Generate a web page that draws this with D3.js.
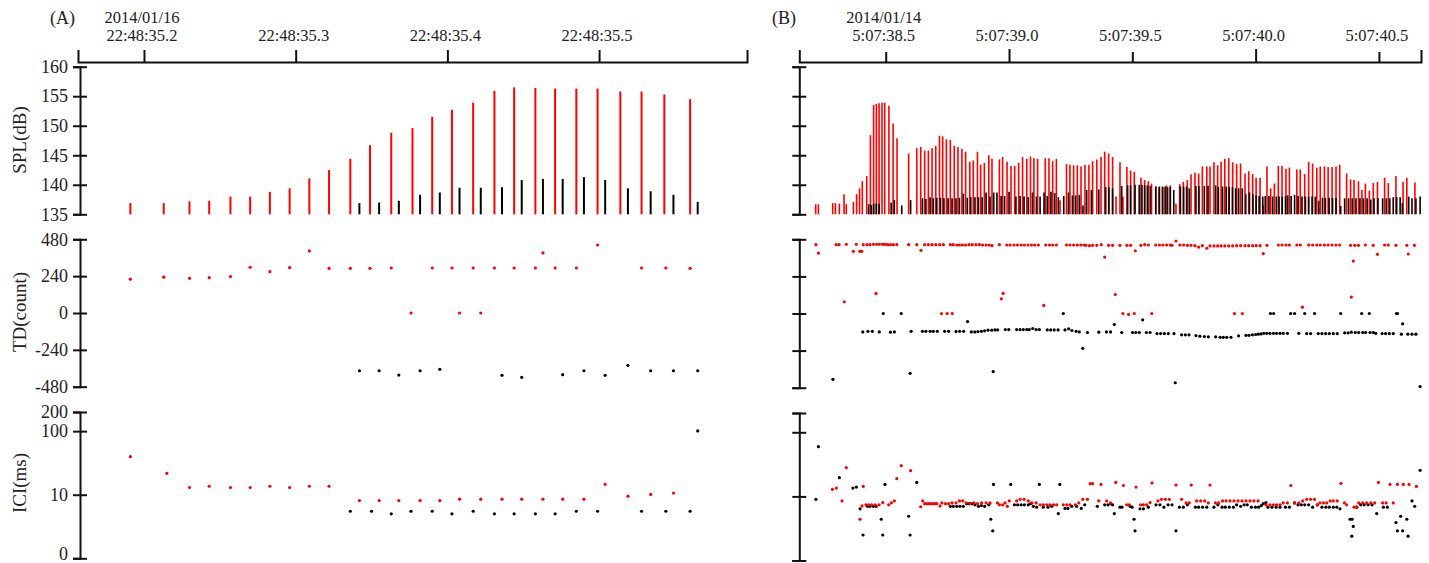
<!DOCTYPE html>
<html><head><meta charset="utf-8">
<script src="https://cdn.jsdelivr.net/npm/d3@7"></script>
<style>body{margin:0;background:#fff}text{font-family:"Liberation Serif","Times New Roman",serif;fill:#222}</style>
</head><body>
<script>
// ---------- tick labels ----------
const aTickVals = [200, 300, 400, 500];
const aTickLabels = ["22:48:35.2", "22:48:35.3", "22:48:35.4", "22:48:35.5"];
const aDate = "2014/01/16";
const bTickVals = [500, 1000, 1500, 2000, 2500];
const bTickLabels = ["5:07:38.5", "5:07:39.0", "5:07:39.5", "5:07:40.0", "5:07:40.5"];
const bDate = "2014/01/14";
const splTicks = [135, 140, 145, 150, 155, 160];
const tdTicks = [-480, -240, 0, 240, 480];
const iciTicks = [1, 10, 100, 200];
const iciTickLabels = ["0", "10", "100", "200"];

// ---------- Panel A data: [time ms after 22:48:35.000, value] ----------
const aSplRed = [[191,136.9],[213,136.9],[230,137.2],[243,137.3],[257,138.0],[270,138.0],[283,138.8],[296,139.4],[309,141.1],[322,142.5],[336,144.4],[349,146.7],[363,148.8],[377,149.6],[390,151.5],[403,152.7],[417,153.9],[431,155.9],[444,156.5],[458,156.4],[471,156.3],[485,156.3],[499,156.3],[514,155.8],[528,155.8],[543,155.3],[560,154.5]];
const aSplBlack = [[342,136.9],[355,137.0],[368,137.3],[382,138.3],[395,138.7],[408,139.5],[422,139.5],[436,139.6],[449,140.8],[463,141.0],[476,141.0],[490,141.3],[504,140.8],[519,139.4],[534,138.9],[549,138.3],[565,137.1]];
const aTdRed = [[191,220],[213,233],[230,226],[243,230],[257,237],[270,298],[283,269],[296,295],[309,404],[322,291],[336,291],[349,291],[363,293],[376,0],[390,293],[403,293],[408,0],[417,293],[422,0],[431,293],[444,293],[458,293],[463,391],[471,293],[485,293],[499,443],[528,293],[544,293],[560,291]];
const aTdBlack = [[342,-376],[355,-376],[368,-404],[382,-376],[395,-367],[436,-406],[449,-419],[476,-402],[490,-376],[504,-406],[519,-341],[534,-376],[549,-376],[565,-376]];
const aIciRed = [[191,39.6],[215,21.7],[230,13.0],[243,13.6],[257,13.0],[270,13.0],[283,13.6],[296,13.0],[309,13.6],[322,13.6],[342,8.1],[355,8.1],[368,8.1],[382,8.1],[395,8.1],[408,8.5],[422,8.5],[436,8.5],[449,8.5],[463,8.5],[476,8.5],[490,8.5],[504,14.6],[519,9.5],[534,10.1],[549,10.6]];
const aIciBlack = [[336,5.5],[350,5.5],[363,5.0],[376,5.5],[390,5.5],[403,5.0],[417,5.5],[431,5.0],[444,5.0],[458,5.0],[471,5.0],[485,5.5],[499,5.5],[528,5.5],[544,5.5],[560,5.5],[565,100.8]];

// ---------- Panel B data: [time ms after 5:07:38.000, value] ----------
const bSplRed = [[216,136.7],[227,136.7],[285,136.9],[296,136.9],[312,136.8],[331,138.4],[340,136.7],[369,137.1],[382,138.4],[394,139.4],[405,140.6],[423,141.5],[438,148.4],[451,153.5],[462,153.7],[473,153.8],[485,153.9],[496,153.9],[513,153.4],[530,150.4],[546,147.9],[593,145.3],[626,146.2],[642,146.4],[658,145.8],[673,145.8],[688,146.2],[703,146.6],[718,148.3],[731,148.2],[746,147.7],[762,147.6],[778,146.6],[793,146.4],[809,146.1],[824,145.6],[841,143.9],[855,144.1],[872,145.6],[885,143.4],[900,143.7],[918,145.0],[931,144.4],[961,144.3],[974,144.7],[992,143.9],[1008,143.2],[1023,143.2],[1039,143.7],[1055,144.7],[1072,144.4],[1087,144.8],[1101,144.5],[1116,144.4],[1147,144.5],[1162,144.5],[1177,144.0],[1192,144.4],[1207,137.4],[1233,143.5],[1247,143.4],[1262,143.3],[1277,143.3],[1292,143.1],[1308,143.4],[1324,143.4],[1339,144.0],[1356,144.3],[1373,144.7],[1388,145.6],[1404,145.3],[1420,144.7],[1434,138.0],[1450,143.8],[1462,138.0],[1478,143.0],[1493,142.4],[1508,142.2],[1535,141.2],[1550,140.8],[1565,140.6],[1578,140.2],[1595,139.7],[1608,139.6],[1624,139.6],[1639,139.9],[1654,139.9],[1677,136.8],[1692,140.1],[1707,140.5],[1723,140.8],[1738,141.8],[1754,142.1],[1769,141.9],[1784,143.1],[1802,143.1],[1815,143.1],[1831,143.8],[1846,143.3],[1860,143.9],[1875,144.4],[1891,144.5],[1907,143.8],[1923,143.5],[1939,143.6],[1957,141.9],[1972,142.3],[1988,141.8],[2002,141.2],[2018,141.2],[2031,136.6],[2046,143.1],[2061,139.4],[2076,140.2],[2092,143.2],[2107,143.2],[2123,142.7],[2137,142.9],[2167,142.6],[2181,142.6],[2199,141.8],[2215,143.9],[2231,143.6],[2248,142.9],[2262,143.1],[2279,143.1],[2294,143.0],[2310,143.0],[2326,143.1],[2341,143.4],[2369,141.9],[2385,140.9],[2399,140.8],[2417,140.6],[2431,139.1],[2445,140.2],[2461,139.0],[2477,140.3],[2494,140.5],[2523,141.2],[2538,140.3],[2569,141.5],[2598,140.5],[2613,141.2],[2646,140.4]];
const bSplBlack = [[431,136.7],[442,136.6],[451,136.8],[462,136.8],[473,136.8],[522,137.0],[535,137.4],[565,136.5],[601,137.4],[649,137.7],[663,137.6],[680,137.9],[693,137.7],[707,137.8],[722,137.8],[736,137.7],[753,137.7],[769,137.7],[785,137.7],[799,137.8],[815,138.5],[831,137.8],[845,137.9],[862,137.9],[876,137.9],[891,137.9],[907,138.7],[923,138.0],[938,138.7],[951,138.7],[968,138.1],[982,138.1],[1000,138.8],[1028,138.0],[1045,138.1],[1061,138.0],[1078,137.9],[1095,138.7],[1111,138.0],[1126,138.0],[1142,138.7],[1155,138.1],[1170,138.8],[1185,138.6],[1200,137.9],[1222,138.1],[1241,138.7],[1257,138.2],[1270,138.2],[1285,138.3],[1300,136.5],[1315,139.1],[1334,139.1],[1364,139.2],[1392,139.6],[1405,139.6],[1420,139.4],[1457,139.8],[1481,139.9],[1493,139.9],[1511,140.0],[1528,140.0],[1539,140.0],[1550,139.9],[1561,139.9],[1573,139.8],[1595,139.7],[1610,139.7],[1622,139.7],[1633,139.7],[1643,139.6],[1654,139.6],[1668,139.1],[1695,139.7],[1708,139.7],[1720,139.7],[1731,139.4],[1758,139.8],[1770,139.8],[1792,139.8],[1807,139.8],[1838,139.9],[1849,139.6],[1866,139.7],[1881,139.7],[1893,139.6],[1906,139.6],[1919,139.4],[1931,139.4],[1946,139.4],[1960,138.4],[1975,138.7],[1989,138.4],[2002,138.2],[2014,138.1],[2029,138.0],[2039,138.1],[2054,138.1],[2069,138.0],[2084,138.0],[2095,138.0],[2108,138.0],[2121,138.1],[2130,138.2],[2144,138.1],[2158,138.3],[2172,138.1],[2188,138.0],[2202,138.0],[2215,138.0],[2229,138.0],[2242,138.0],[2256,137.3],[2271,137.8],[2283,137.8],[2298,137.8],[2312,137.8],[2326,137.8],[2345,136.4],[2361,137.7],[2377,137.7],[2392,137.7],[2407,137.7],[2423,137.7],[2437,137.7],[2452,137.7],[2467,137.5],[2480,137.7],[2496,137.7],[2515,137.7],[2530,137.7],[2544,137.7],[2558,137.9],[2572,137.9],[2586,137.9],[2595,136.9],[2621,138.0],[2634,137.7],[2650,137.7],[2667,138.0]];
const bTdRed = [[217,445],[227,391],[299,445],[311,445],[332,76],[340,448],[369,402],[381,448],[395,402],[403,402],[409,445],[424,445],[436,445],[450,448],[461,130],[463,448],[474,448],[486,448],[493,448],[499,448],[508,445],[519,445],[531,445],[545,445],[593,445],[626,445],[643,409],[658,445],[673,445],[688,445],[703,445],[719,445],[734,445],[726,0],[749,0],[770,0],[762,445],[774,445],[788,443],[799,443],[811,443],[824,443],[838,445],[851,445],[866,445],[880,445],[893,443],[907,443],[920,443],[931,439],[961,445],[969,95],[976,130],[991,443],[1004,443],[1020,443],[1034,443],[1049,443],[1062,443],[1077,443],[1091,443],[1104,443],[1119,443],[1141,52],[1149,443],[1164,443],[1177,443],[1192,443],[1233,443],[1247,443],[1262,443],[1277,443],[1291,443],[1304,443],[1312,441],[1326,439],[1339,441],[1356,441],[1374,445],[1388,365],[1404,441],[1420,441],[1431,123],[1450,441],[1462,0],[1478,441],[1485,-6],[1493,441],[1508,0],[1512,406],[1535,441],[1550,445],[1565,443],[1579,0],[1595,443],[1610,443],[1624,443],[1639,443],[1654,443],[1661,441],[1677,469],[1693,443],[1708,443],[1723,441],[1738,441],[1754,439],[1769,430],[1784,439],[1802,422],[1815,437],[1831,437],[1846,437],[1860,437],[1875,437],[1891,437],[1907,437],[1914,0],[1923,439],[1939,439],[1946,0],[1957,439],[1972,439],[1988,439],[2002,439],[2018,439],[2031,387],[2046,441],[2092,443],[2107,443],[2123,443],[2137,443],[2167,443],[2181,443],[2190,41],[2215,443],[2231,443],[2248,443],[2262,443],[2279,443],[2294,443],[2310,443],[2326,443],[2341,443],[2385,441],[2388,106],[2396,339],[2402,441],[2417,441],[2445,443],[2477,441],[2494,383],[2523,443],[2538,443],[2569,441],[2613,441],[2619,385],[2644,441]];
const bTdBlack = [[286,-426],[407,-119],[428,-115],[446,-115],[474,-119],[490,0],[519,-121],[535,-119],[563,0],[599,-387],[603,-115],[649,-115],[663,-115],[680,-115],[693,-115],[709,-115],[739,-115],[755,-115],[785,-117],[800,-115],[816,-115],[832,-52],[847,-119],[861,-119],[874,-117],[888,-115],[901,-112],[915,-108],[930,-108],[936,-376],[943,-106],[954,-106],[985,-104],[999,-104],[1031,-104],[1045,-104],[1058,-104],[1072,-104],[1082,-104],[1096,-97],[1110,-104],[1123,-104],[1155,-106],[1169,-106],[1183,-106],[1199,-106],[1220,0],[1227,-106],[1242,-99],[1255,-110],[1272,-115],[1285,-119],[1299,-225],[1318,-123],[1364,-121],[1395,-119],[1412,-119],[1427,-71],[1457,-123],[1501,-123],[1514,-123],[1528,-123],[1542,-41],[1557,-123],[1572,-123],[1600,-130],[1615,-130],[1630,-130],[1646,-130],[1669,-130],[1674,-448],[1700,-138],[1715,-138],[1730,-138],[1758,-143],[1774,-147],[1792,-149],[1808,-151],[1838,-151],[1856,-154],[1869,-154],[1883,-154],[1900,-154],[1931,-145],[1961,-141],[1973,-141],[1987,-138],[2000,-136],[2011,-134],[2022,-132],[2033,-128],[2045,-128],[2058,-128],[2060,0],[2073,0],[2072,-128],[2085,-128],[2099,-128],[2112,-128],[2129,-128],[2142,0],[2158,0],[2175,-128],[2199,0],[2207,-130],[2223,-130],[2239,0],[2254,-130],[2269,-130],[2284,-130],[2299,-130],[2315,-130],[2331,-130],[2345,0],[2361,-125],[2375,-125],[2388,-121],[2404,-123],[2418,-123],[2430,0],[2434,-123],[2446,-123],[2461,0],[2464,-123],[2477,-123],[2487,-128],[2513,-130],[2527,-130],[2542,-130],[2558,-130],[2571,0],[2575,0],[2591,-134],[2596,-67],[2617,-134],[2634,-134],[2650,-134],[2667,-473]];
const bIciRed = [[284,12.9],[300,13.5],[323,8.5],[340,28.1],[396,4.4],[404,7.1],[409,14.3],[420,7.4],[431,7.4],[443,7.4],[457,7.4],[473,7.4],[488,8.0],[512,7.4],[523,7.9],[535,8.5],[545,18.9],[563,30.1],[601,25.2],[642,6.9],[650,8.5],[658,7.7],[666,7.7],[674,7.7],[682,7.7],[691,7.7],[699,7.7],[707,7.7],[720,7.1],[728,7.9],[742,7.7],[755,7.7],[769,7.9],[785,7.9],[799,8.5],[812,8.5],[826,7.9],[842,7.7],[858,7.9],[872,7.7],[889,7.9],[907,7.9],[923,7.9],[953,7.9],[961,7.4],[974,7.4],[984,7.9],[993,7.0],[1001,8.5],[1031,8.5],[1045,9.0],[1061,9.0],[1078,8.5],[1093,7.9],[1110,7.9],[1126,7.4],[1139,7.4],[1153,7.4],[1166,7.4],[1180,7.4],[1193,7.4],[1220,7.4],[1234,7.4],[1247,7.4],[1269,7.4],[1283,7.9],[1299,9.0],[1318,9.0],[1329,15.8],[1339,15.8],[1364,8.5],[1373,15.4],[1396,8.5],[1412,7.9],[1433,16.5],[1464,14.8],[1477,7.4],[1488,7.4],[1515,14.0],[1534,7.4],[1545,7.4],[1558,7.4],[1572,8.0],[1580,16.2],[1604,8.5],[1618,9.0],[1634,9.0],[1650,9.0],[1677,15.0],[1700,9.0],[1718,7.9],[1731,7.9],[1739,15.0],[1761,8.5],[1777,8.5],[1793,8.5],[1808,7.9],[1815,15.0],[1837,7.9],[1850,7.9],[1866,8.5],[1880,8.5],[1896,8.5],[1912,8.5],[1929,8.5],[1945,8.5],[1961,8.5],[1977,8.5],[1993,8.5],[2010,8.5],[2042,7.4],[2058,7.4],[2072,7.4],[2085,7.4],[2099,7.4],[2112,7.9],[2129,7.9],[2143,14.8],[2158,7.9],[2175,7.9],[2191,8.5],[2207,9.0],[2223,9.0],[2239,9.0],[2250,7.4],[2261,7.9],[2275,7.9],[2288,7.9],[2302,8.5],[2315,8.5],[2331,8.5],[2346,16.0],[2360,7.9],[2369,7.4],[2399,6.8],[2410,6.8],[2418,7.9],[2434,7.9],[2450,7.9],[2467,7.9],[2483,7.9],[2498,16.5],[2515,7.9],[2529,7.9],[2545,15.4],[2558,7.9],[2575,15.4],[2599,15.4],[2622,15.4],[2652,14.3]];
const bIciBlack = [[217,9.0],[227,59.7],[312,19.6],[367,13.5],[381,14.0],[396,6.4],[408,2.5],[426,7.0],[436,7.0],[450,7.0],[461,7.0],[482,4.4],[488,2.5],[497,15.4],[593,4.9],[599,2.5],[626,16.5],[762,7.0],[774,7.0],[788,7.0],[801,7.0],[815,7.0],[828,7.7],[839,7.7],[850,7.7],[862,7.4],[876,7.0],[888,7.2],[901,7.0],[918,7.4],[926,4.4],[934,2.9],[937,15.4],[1007,15.4],[1022,7.4],[1035,7.4],[1049,7.4],[1062,7.4],[1078,7.4],[1088,7.7],[1099,7.0],[1112,6.8],[1123,15.4],[1139,6.8],[1158,6.8],[1173,7.0],[1200,5.4],[1206,15.4],[1227,6.5],[1239,6.5],[1254,7.0],[1274,7.0],[1293,6.5],[1307,7.4],[1358,7.0],[1388,7.4],[1401,7.4],[1412,7.7],[1420,7.4],[1427,5.4],[1450,6.8],[1458,6.8],[1491,7.0],[1499,6.8],[1507,4.4],[1511,2.9],[1531,6.4],[1545,6.4],[1565,6.8],[1596,7.4],[1612,7.4],[1628,6.8],[1645,7.4],[1661,7.4],[1677,2.9],[1691,6.8],[1707,6.8],[1723,7.4],[1756,6.8],[1769,6.8],[1785,6.8],[1802,6.8],[1831,6.8],[1847,7.4],[1864,6.8],[1877,6.8],[1893,6.8],[1910,6.8],[1923,7.4],[1939,7.0],[1953,7.4],[1966,7.4],[1983,6.8],[1999,6.8],[2012,6.8],[2023,7.2],[2031,7.7],[2042,8.0],[2050,6.8],[2066,6.8],[2083,6.8],[2099,6.8],[2121,6.8],[2137,6.8],[2158,7.9],[2172,7.4],[2185,7.4],[2199,7.4],[2215,7.4],[2231,6.8],[2250,7.4],[2269,6.8],[2285,6.8],[2299,6.8],[2315,6.8],[2329,6.8],[2342,6.4],[2383,4.4],[2391,4.4],[2396,3.4],[2390,2.4],[2410,6.8],[2426,7.4],[2440,7.4],[2456,7.4],[2472,7.4],[2491,5.4],[2518,6.8],[2534,6.8],[2569,3.9],[2575,2.9],[2588,4.9],[2596,2.9],[2613,4.4],[2618,2.4],[2634,8.5],[2645,7.0],[2667,25.5]];

// ---------- drawing ----------
const W = 1429, H = 563;
const svg = d3.select("body").append("svg").attr("width", W).attr("height", H);
svg.append("rect").attr("width", W).attr("height", H).attr("fill", "#fff");

const RED = "#ff0000", BLK = "#000000";

const panels = [
  { label: "(A)", labelX: 50, axisX: 80, x: d3.scaleLinear().domain([156.5, 597.5]).range([78, 747]),
    ticks: aTickVals, tickLabels: aTickLabels, date: aDate, majorEvery: 1, showY: true,
    iciRange: [558.3, 412], tdRange: [386.7, 239.3], barW: 2,
    spl: [aSplRed, aSplBlack], td: [aTdRed, aTdBlack], ici: [aIciRed, aIciBlack] },
  { label: "(B)", labelX: 772, axisX: 799.3, x: d3.scaleLinear().domain([149.6, 2670.6]).range([799.3, 1421]),
    ticks: bTickVals, tickLabels: bTickLabels, date: bDate, majorEvery: 2, showY: false,
    iciRange: [560.5, 413], tdRange: [387.7, 239.3], barW: 1.6,
    spl: [bSplRed, bSplBlack], td: [bTdRed, bTdBlack], ici: [bIciRed, bIciBlack] }
];

panels.forEach((p) => {
  const g = svg.append("g");
  const x = p.x;
  const ySpl = d3.scaleLinear().domain([135, 160]).range([214.3, 66.7]);
  const yTd = d3.scaleLinear().domain([-480, 480]).range(p.tdRange);
  const yIci = d3.scaleLog().domain([1, 200]).range(p.iciRange);

  // panel label
  g.append("text").attr("x", p.labelX).attr("y", 24).attr("font-size", 18).text(p.label);

  // top time axis
  const top = g.append("g").attr("transform", "translate(0,62)")
    .call(d3.axisTop(x).tickValues(p.ticks).tickSizeOuter(0).tickSize(12).tickFormat(""));
  top.select(".domain").attr("stroke", "#111").attr("stroke-width", 2);
  top.selectAll(".tick line").attr("stroke", "#111").attr("stroke-width", 2)
    .attr("y2", (d, i) => (p.majorEvery === 2 ? (i % 2 === 1 ? -13 : -10) : -12));
  p.ticks.forEach((t, i) => {
    g.append("text").attr("x", x(t) - 2).attr("y", 41).attr("text-anchor", "middle")
      .attr("font-size", 16.5).text(p.tickLabels[i]);
  });
  g.append("text").attr("x", x(p.ticks[0]) - 2).attr("y", 23).attr("text-anchor", "middle")
    .attr("font-size", 16.5).text(p.date);

  // left axes
  function leftAxis(scale, vals, labels, lift) {
    const ax = g.append("g").attr("transform", `translate(${p.axisX},0)`)
      .call(d3.axisLeft(scale).tickValues(vals).tickSizeOuter(0).tickSize(7)
        .tickFormat((d, i) => (p.showY ? labels[i] : "")));
    ax.select(".domain").attr("stroke", "#111").attr("stroke-width", 2);
    ax.selectAll(".tick line").attr("stroke", "#111").attr("stroke-width", 2).attr("x1", 7);
    ax.selectAll(".tick text").attr("x", -12).attr("font-size", 18)
      .attr("y", (d, i) => (lift && i === 0 ? -5 : 0))
      .attr("font-family", '"Liberation Serif","Times New Roman",serif').attr("fill", "#222");
  }
  leftAxis(ySpl, splTicks, splTicks.map(String), false);
  leftAxis(yTd, tdTicks, tdTicks.map(String), false);
  leftAxis(yIci, iciTicks, iciTickLabels, true);

  if (p.showY) {
    [["SPL(dB)", 140], ["TD(count)", 312], ["ICI(ms)", 483]].forEach(([t, cy]) => {
      g.append("text").attr("transform", `translate(26,${cy}) rotate(-90)`)
        .attr("text-anchor", "middle").attr("font-size", 19).text(t);
    });
  }

  // SPL bars
  const [sRed, sBlk] = p.spl;
  g.append("g").selectAll("line").data(sRed).join("line")
    .attr("x1", d => x(d[0])).attr("x2", d => x(d[0]))
    .attr("y1", ySpl(135)).attr("y2", d => ySpl(d[1]))
    .attr("stroke", RED).attr("stroke-width", p.barW);
  g.append("g").selectAll("line").data(sBlk).join("line")
    .attr("x1", d => x(d[0])).attr("x2", d => x(d[0]))
    .attr("y1", ySpl(135)).attr("y2", d => ySpl(d[1]))
    .attr("stroke", BLK).attr("stroke-width", p.barW);

  // TD points
  const [tRed, tBlk] = p.td;
  g.append("g").selectAll("circle").data(tBlk).join("circle")
    .attr("cx", d => x(d[0])).attr("cy", d => yTd(d[1])).attr("r", 1.6).attr("fill", BLK);
  g.append("g").selectAll("circle").data(tRed).join("circle")
    .attr("cx", d => x(d[0])).attr("cy", d => yTd(d[1])).attr("r", 1.6).attr("fill", RED);

  // ICI points
  const [iRed, iBlk] = p.ici;
  g.append("g").selectAll("circle").data(iBlk).join("circle")
    .attr("cx", d => x(d[0])).attr("cy", d => yIci(d[1])).attr("r", 1.6).attr("fill", BLK);
  g.append("g").selectAll("circle").data(iRed).join("circle")
    .attr("cx", d => x(d[0])).attr("cy", d => yIci(d[1])).attr("r", 1.6).attr("fill", RED);
});
</script>
</body></html>
